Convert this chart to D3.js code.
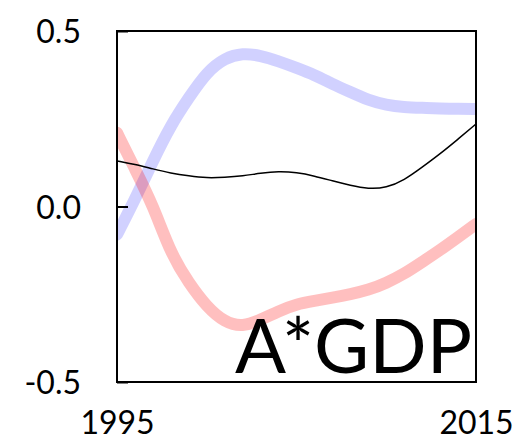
<!DOCTYPE html>
<html>
<head>
<meta charset="utf-8">
<script src="https://cdn.jsdelivr.net/npm/d3@7"></script>
<style>
  html, body { margin: 0; padding: 0; background: #fff; }
  svg text { font-family: Lato, "Open Sans", sans-serif; fill: #000; }
</style>
</head>
<body>
<svg id="chart" width="520" height="441"></svg>
<script>
const years = d3.range(1995, 2016);
const blueSeries = [-0.08, 0.02, 0.13, 0.232, 0.31, 0.383, 0.423, 0.437, 0.43, 0.414, 0.395,
                    0.375, 0.349, 0.326, 0.303, 0.289, 0.283, 0.281, 0.279, 0.278, 0.278];
const redSeries = [0.21, 0.107, 0.004, -0.135, -0.218, -0.286, -0.33, -0.343, -0.323, -0.298, -0.278,
                   -0.269, -0.26, -0.25, -0.238, -0.218, -0.192, -0.158, -0.124, -0.087, -0.05];
const blackSeries = [0.13, 0.12, 0.107, 0.095, 0.087, 0.081, 0.083, 0.087, 0.095, 0.1, 0.097,
                     0.087, 0.073, 0.06, 0.05, 0.053, 0.075, 0.112, 0.15, 0.192, 0.235];
const yTicks = [-0.5, 0.0, 0.5];
const xTickLabels = [1995, 2015];
const panelLabel = "A*GDP";

const svg = d3.select("#chart");
const mLeft = 117, mRight = 476, mTop = 31, mBottom = 382;
const x = d3.scaleLinear().domain([1995, 2015]).range([mLeft, mRight]);
const y = d3.scaleLinear().domain([-0.5, 0.5]).range([mBottom, mTop]);

svg.append("defs").append("clipPath").attr("id", "clip")
  .append("rect").attr("x", mLeft).attr("y", mTop)
  .attr("width", mRight - mLeft).attr("height", mBottom - mTop);

const line = d3.line()
  .x((d, i) => x(years[i]))
  .y(d => y(d))
  .curve(d3.curveBasis);

const g = svg.append("g").attr("clip-path", "url(#clip)");
g.append("path").datum(blueSeries).attr("d", line)
  .attr("fill", "none").attr("stroke", "rgba(0,0,255,0.18)").attr("stroke-width", 12)
  .attr("stroke-linecap", "round").attr("stroke-linejoin", "round");
g.append("path").datum(redSeries).attr("d", line)
  .attr("fill", "none").attr("stroke", "rgba(255,0,0,0.25)").attr("stroke-width", 12)
  .attr("stroke-linecap", "round").attr("stroke-linejoin", "round");
g.append("path").datum(blackSeries).attr("d", line)
  .attr("fill", "none").attr("stroke", "#000").attr("stroke-width", 1.5);

// frame
svg.append("rect").attr("x", mLeft).attr("y", mTop)
  .attr("width", mRight - mLeft).attr("height", mBottom - mTop)
  .attr("fill", "none").attr("stroke", "#000").attr("stroke-width", 2);

// y axis
const fmt = d3.format(".1f");
const yAxis = d3.axisLeft(y).tickValues(yTicks).tickSize(-11)
  .tickFormat(d => fmt(d).replace("\u2212", "-"));
const ya = svg.append("g").attr("transform", `translate(${mLeft},0)`).call(yAxis);
ya.select(".domain").remove();
ya.selectAll(".tick line").attr("stroke", "#000").attr("stroke-width", 2);
ya.selectAll(".tick text")
  .attr("x", -36).attr("dy", null).attr("y", 11.5)
  .attr("text-anchor", "end")
  .style("font-family", "Lato, sans-serif").style("font-size", "32px").attr("fill", "#000");

// x axis
const xAxis = d3.axisBottom(x).tickValues(xTickLabels).tickSize(0).tickFormat(d3.format("d"));
const xa = svg.append("g").attr("transform", `translate(0,${mBottom})`).call(xAxis);
xa.select(".domain").remove();
xa.selectAll(".tick text")
  .attr("y", 52).attr("dy", null)
  .style("font-family", "Lato, sans-serif").style("font-size", "32px").attr("fill", "#000");

// panel label
svg.append("text").attr("x", 235).attr("y", 373)
  .attr("textLength", 237).attr("lengthAdjust", "spacingAndGlyphs")
  .style("font-size", "75px").text(panelLabel);
</script>
</body>
</html>
